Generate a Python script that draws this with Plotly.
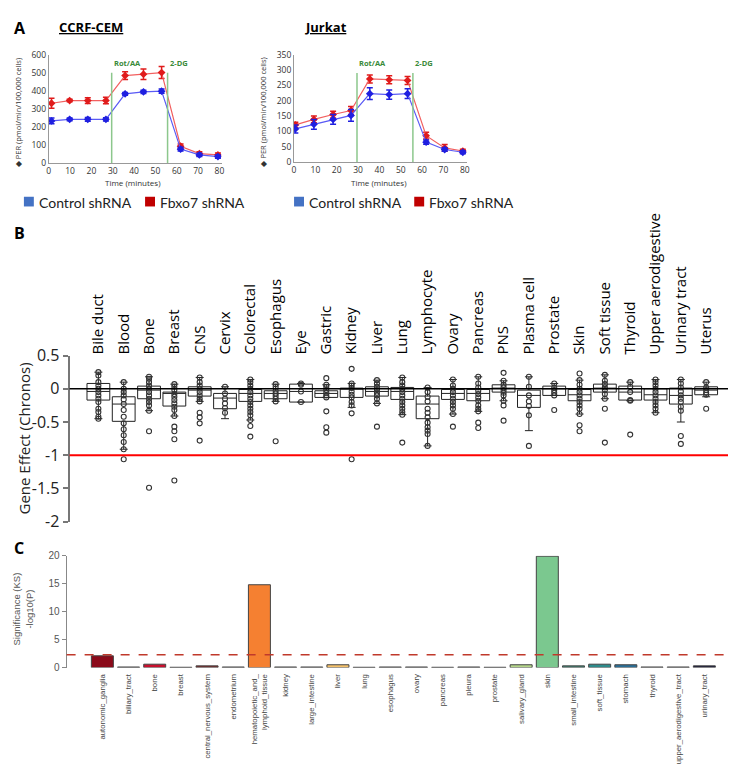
import plotly.graph_objects as go

W, H = 736, 767

# ---------------- Panel A data ----------------
time_ccrf = [1.3, 9.8, 18.3, 26.8, 35.8, 44.4, 52.9, 61.8, 70.6, 79.3]
ccrf_ctrl = [233, 242, 242, 242, 383, 394, 398, 77, 45, 36]
ccrf_ctrl_err = [16, 8, 10, 9, 8, 9, 12, 10, 9, 9]
ccrf_fbxo7 = [331, 346, 346, 346, 484, 492, 501, 93, 52, 45]
ccrf_fbxo7_err = [27, 7, 16, 18, 22, 29, 33, 12, 11, 11]

time_jurkat = [0.6, 9.3, 18.3, 26.7, 35.5, 44.6, 53.2, 61.9, 70.6, 79.1]
jurkat_ctrl = [108, 123, 139, 152, 223, 220, 223, 65, 41, 32]
jurkat_ctrl_err = [13, 16, 16, 19, 19, 15, 16, 7, 6, 5]
jurkat_fbxo7 = [121, 139, 155, 168, 271, 268, 266, 86, 46, 36]
jurkat_fbxo7_err = [9, 11, 11, 13, 13, 13, 13, 11, 11, 6]

rot_aa_time = 29.5
dg_time = 55.7
time_ticks = [0, 10, 20, 30, 40, 50, 60, 70, 80]

# ---------------- Panel B data ----------------
lineages = ["Bile duct", "Blood", "Bone", "Breast", "CNS", "Cervix", "Colorectal",
            "Esophagus", "Eye", "Gastric", "Kidney", "Liver", "Lung", "Lymphocyte",
            "Ovary", "Pancreas", "PNS", "Plasma cell", "Prostate", "Skin",
            "Soft tissue", "Thyroid", "Upper aerodigestive", "Urinary tract", "Uterus"]
b_q3 = [0.08, -0.12, 0.04, -0.05, 0.03, -0.07, -0.01, -0.03, 0.07, -0.03, 0.01, 0.03, 0.02,
        -0.11, -0.01, -0.01, 0.06, -0.02, 0.04, -0.01, 0.07, 0.04, 0.0, 0.01, 0.03]
b_median = [-0.04, -0.23, -0.02, -0.07, -0.02, -0.14, -0.07, -0.07, -0.04, -0.07, 0.01, -0.04,
            -0.04, -0.23, -0.07, -0.07, 0.01, -0.1, 0.0, -0.09, 0.01, -0.05, -0.09, -0.1, -0.02]
b_q1 = [-0.17, -0.49, -0.15, -0.26, -0.11, -0.3, -0.19, -0.15, -0.2, -0.13, -0.13, -0.11, -0.16,
        -0.45, -0.16, -0.18, -0.05, -0.28, -0.1, -0.18, -0.05, -0.17, -0.17, -0.23, -0.09]
b_upper = [0.25, 0.1, 0.18, 0.07, 0.17, 0.03, 0.14, 0.07, 0.08, 0.06, 0.08, 0.13, 0.17,
           0.02, 0.14, 0.18, 0.12, 0.18, 0.08, 0.13, 0.21, 0.1, 0.14, 0.14, 0.1]
b_lower = [-0.45, -0.91, -0.33, -0.41, -0.19, -0.45, -0.47, -0.19, -0.2, -0.13, -0.28, -0.22,
           -0.39, -0.86, -0.38, -0.34, -0.18, -0.63, -0.1, -0.38, -0.15, -0.18, -0.36, -0.5, -0.12]
b_points = [
    [0.25, 0.2, 0.1, 0.05, 0.0, -0.05, -0.1, -0.15, -0.2, -0.3, -0.35, -0.42, -0.45],
    [0.1, 0.0, -0.05, -0.1, -0.16, -0.23, -0.32, -0.42, -0.52, -0.61, -0.7, -0.8, -0.91, -1.06],
    [0.18, 0.15, 0.1, 0.05, 0.0, -0.05, -0.1, -0.15, -0.2, -0.25, -0.33, -0.64, -1.49],
    [0.07, 0.03, -0.02, -0.08, -0.12, -0.17, -0.22, -0.27, -0.32, -0.41, -0.57, -0.64, -0.76, -1.38],
    [0.17, 0.1, 0.05, 0.0, -0.05, -0.1, -0.15, -0.19, -0.36, -0.43, -0.52, -0.78],
    [0.03, -0.07, -0.15, -0.22, -0.29, -0.36],
    [0.14, 0.1, 0.05, 0.0, -0.05, -0.1, -0.15, -0.2, -0.25, -0.3, -0.35, -0.4, -0.47, -0.56, -0.72],
    [0.07, 0.03, -0.03, -0.07, -0.11, -0.15, -0.19, -0.79],
    [0.08, 0.06, -0.04, -0.2],
    [0.16, 0.06, 0.03, -0.02, -0.06, -0.1, -0.13, -0.34, -0.58, -0.66],
    [0.3, 0.08, 0.05, 0.01, -0.04, -0.09, -0.13, -0.2, -0.25, -0.37, -1.06],
    [0.13, 0.08, 0.03, -0.02, -0.06, -0.1, -0.15, -0.22, -0.57],
    [0.17, 0.1, 0.05, 0.0, -0.05, -0.1, -0.15, -0.2, -0.25, -0.3, -0.35, -0.39, -0.81],
    [0.02, -0.05, -0.12, -0.19, -0.3, -0.36, -0.43, -0.51, -0.58, -0.63, -0.68, -0.86],
    [0.14, 0.05, 0.0, -0.05, -0.1, -0.15, -0.2, -0.25, -0.3, -0.38, -0.57],
    [0.18, 0.08, 0.02, -0.03, -0.08, -0.13, -0.18, -0.25, -0.3, -0.34, -0.51, -0.59],
    [0.24, 0.12, 0.06, 0.02, -0.02, -0.06, -0.1, -0.18, -0.25, -0.48],
    [0.18, 0.03, -0.1, -0.19, -0.26, -0.4, -0.86],
    [0.08, 0.02, -0.02, -0.06, -0.1, -0.32],
    [0.23, 0.13, 0.06, 0.0, -0.05, -0.1, -0.15, -0.2, -0.25, -0.3, -0.38, -0.55, -0.64],
    [0.21, 0.12, 0.07, 0.02, -0.02, -0.08, -0.15, -0.3, -0.81],
    [0.1, 0.03, -0.05, -0.17, -0.18, -0.69],
    [0.14, 0.1, 0.05, 0.0, -0.05, -0.1, -0.15, -0.2, -0.25, -0.3, -0.36],
    [0.14, 0.08, 0.02, -0.04, -0.1, -0.15, -0.2, -0.27, -0.33, -0.71, -0.83],
    [0.1, 0.02, -0.02, -0.06, -0.09, -0.3],
]
b_threshold = -1
b_yticks = [0.5, 0, -0.5, -1, -1.5, -2]

# ---------------- Panel C data ----------------
tissues = ["autonomic_ganglia", "biliary_tract", "bone", "breast", "central_nervous_system",
           "endometrium", "hematopoietic_and_<br>lymphoid_tissue", "kidney", "large_intestine",
           "liver", "lung", "esophagus", "ovary", "pancreas", "pleura", "prostate",
           "salivary_gland", "skin", "small_intestine", "soft_tissue", "stomach", "thyroid",
           "upper_aerodigestive_tract", "urinary_tract"]
significance = [2.1, 0.1, 0.6, 0.05, 0.3, 0.1, 14.8, 0.1, 0.1, 0.5, 0.05, 0.1, 0.1, 0.05,
                0.1, 0.05, 0.5, 19.9, 0.3, 0.6, 0.5, 0.1, 0.1, 0.3]
tissue_colors = ["#8b0a1a", "#555555", "#c8102e", "#888888", "#7a2b2b", "#555555", "#f58031",
                 "#555555", "#555555", "#f5c26b", "#888888", "#555555", "#555555", "#888888",
                 "#555555", "#888888", "#b5d68a", "#7bc88f", "#3f7f6f", "#2e8b8b", "#2a6f97",
                 "#555555", "#444444", "#1a1a3a"]
sig_threshold = 2.3


def xd(a, b):
    return [a / W, b / W]


def yd(top, bottom):
    return [1 - bottom / H, 1 - top / H]


def px(x):
    return x / W


def py(y):
    return 1 - y / H


fig = go.Figure()

CTRL_LINE, CTRL_MK = "#5a5af5", "#1f1fe0"
FB_LINE, FB_MK = "#f26060", "#e01b1b"

panels_a = [
    ("x", "y", time_ccrf, ccrf_ctrl, ccrf_ctrl_err, ccrf_fbxo7, ccrf_fbxo7_err),
    ("x2", "y2", time_jurkat, jurkat_ctrl, jurkat_ctrl_err, jurkat_fbxo7, jurkat_fbxo7_err),
]
for xa, ya, t, c, ce, f, fe in panels_a:
    for vals, errs, lc, mc in [(f, fe, FB_LINE, FB_MK), (c, ce, CTRL_LINE, CTRL_MK)]:
        fig.add_trace(go.Scatter(
            x=t, y=vals, xaxis=xa, yaxis=ya, mode="lines+markers",
            line=dict(color=lc, width=1.2),
            marker=dict(symbol="diamond", size=6, color=mc),
            error_y=dict(type="data", array=errs, color=mc, thickness=1.5, width=3),
            showlegend=False, hoverinfo="skip"))

# Panel B boxes
xpos = list(range(len(lineages)))
fig.add_trace(go.Box(
    x=xpos, q1=b_q1, median=b_median, q3=b_q3, lowerfence=b_lower, upperfence=b_upper,
    xaxis="x3", yaxis="y3", fillcolor="white", line=dict(color="#222222", width=1),
    boxpoints=False, width=0.9, whiskerwidth=0.35, showlegend=False, hoverinfo="skip"))
px_list, py_list = [], []
for i, pts in enumerate(b_points):
    px_list += [i] * len(pts)
    py_list += pts
fig.add_trace(go.Scatter(
    x=px_list, y=py_list, xaxis="x3", yaxis="y3", mode="markers",
    marker=dict(symbol="circle-open", size=5, color="#333333", line=dict(width=1.1)),
    showlegend=False, hoverinfo="skip"))

# Panel C bars
fig.add_trace(go.Bar(
    x=list(range(len(tissues))), y=significance, xaxis="x4", yaxis="y4",
    marker=dict(color=tissue_colors, line=dict(color="#444444", width=1)),
    width=0.84, showlegend=False, hoverinfo="skip"))

tickA = dict(size=8.5, color="#333333", family="Open Sans")
common_a_x = dict(range=[0, 81], tickvals=time_ticks, showline=True, linecolor="#999999",
                  linewidth=1, ticks="", tickfont=tickA, showgrid=False, zeroline=False)
common_a_y = dict(showline=True, linecolor="#999999", linewidth=1, ticks="",
                  tickfont=tickA, showgrid=False, zeroline=False)

fig.update_layout(
    width=W, height=H, margin=dict(l=0, r=0, t=0, b=0),
    paper_bgcolor="white", plot_bgcolor="white", showlegend=False,
    xaxis=dict(domain=xd(39, 213), anchor="y", **common_a_x),
    yaxis=dict(domain=yd(36.7, 148.3), anchor="x", range=[0, 600], dtick=100, **common_a_y),
    xaxis2=dict(domain=xd(286, 460), anchor="y2", **common_a_x),
    yaxis2=dict(domain=yd(36.7, 147.3), anchor="x2", range=[0, 350], dtick=50, **common_a_y),
    xaxis3=dict(domain=xd(60, 730), anchor="y3", range=[-1.137, 25.14], side="top",
                tickvals=xpos, ticktext=lineages, tickangle=-90, ticks="",
                tickfont=dict(size=15, color="black", family="Open Sans"),
                showline=False, showgrid=False, zeroline=False),
    yaxis3=dict(domain=yd(346.5, 517.5), anchor="x3", range=[-2, 0.5], tickvals=b_yticks,
                ticktext=["0.5", "0", "-0.5", "-1", "-1.5", "-2"], showline=True,
                linecolor="#777777", linewidth=2, ticks="outside", ticklen=5,
                tickcolor="#777777", tickwidth=2,
                tickfont=dict(size=16, color="#222222", family="Open Sans"),
                showgrid=False, zeroline=False),
    xaxis4=dict(domain=xd(57, 736), anchor="y4", range=[-1.366, 24.4],
                tickvals=list(range(len(tissues))), ticktext=tissues, tickangle=-90, ticks="",
                tickfont=dict(size=7.8, color="#444444", family="Liberation Sans"),
                ticklabelstandoff=4, showline=False, showgrid=False, zeroline=False),
    yaxis4=dict(domain=yd(552.5, 667.7), anchor="x4", range=[0, 20], dtick=5,
                showline=True, linecolor="#888888", linewidth=1, ticks="outside", ticklen=4,
                tickcolor="#888888", tickfont=dict(size=10, color="#555555", family="Liberation Sans"),
                showgrid=False, zeroline=False),
)

shapes = []
# injection lines
for xa, ya, top in [("x", "y", 500), ("x2", "y2", 290)]:
    for tx in (rot_aa_time, dg_time):
        shapes.append(dict(type="line", xref=xa, yref=ya, x0=tx, x1=tx, y0=0, y1=top,
                           line=dict(color="#8cc78c", width=1.5)))
# panel B reference lines
shapes.append(dict(type="line", xref="paper", yref="y3", x0=px(60), x1=1, y0=0, y1=0,
                   line=dict(color="black", width=1.5)))
shapes.append(dict(type="line", xref="paper", yref="y3", x0=px(60), x1=px(729),
                   y0=b_threshold, y1=b_threshold, line=dict(color="#ff0000", width=2)))
# panel C threshold
shapes.append(dict(type="line", xref="paper", yref="y4", x0=px(57), x1=1,
                   y0=sig_threshold, y1=sig_threshold,
                   line=dict(color="#c0392b", width=1.5, dash="dash")))
# legend squares for panel A
for x0, col in [(14, "#4472c4"), (136, "#c00000"), (286, "#4472c4"), (407, "#c00000")]:
    shapes.append(dict(type="rect", xref="paper", yref="paper", x0=px(x0), x1=px(x0 + 10),
                       y0=py(193), y1=py(183), fillcolor=col, line=dict(width=0)))
fig.update_layout(shapes=shapes)

ann = []


def text(x, y, s, size, color="black", family="Open Sans", xanchor="center",
         yanchor="middle", angle=0, xref="paper", yref="paper"):
    ann.append(dict(x=x, y=y, xref=xref, yref=yref, text=s, showarrow=False,
                    font=dict(size=size, color=color, family=family),
                    xanchor=xanchor, yanchor=yanchor, textangle=angle))


text(px(2), py(9), "<b>A</b>", 16, xanchor="left")
text(px(2), py(220), "<b>B</b>", 16, xanchor="left")
text(px(2), py(545), "<b>C</b>", 16, xanchor="left")
text(px(82), py(8), "<b><u>CCRF-CEM</u></b>", 13)
text(px(318), py(8), "<b><u>Jurkat</u></b>", 13)
for xa, cx, lx in [("x", 124, 8), ("x2", 372, 255)]:
    text(px(cx), py(168), "Time (minutes)", 8, color="#333333")
    text(px(lx), py(96), "◆ PER (pmol/min/100,000 cells)", 7.5, color="#333333", angle=-90)
    text(rot_aa_time, py(45), "<b>Rot/AA</b>", 7.5, color="#3a8a3a", xanchor="left",
         xref=xa)
    text(dg_time, py(45), "<b>2-DG</b>", 7.5, color="#3a8a3a", xanchor="left", xref=xa)
for x0, s in [(27, "Control shRNA"), (149, "Fbxo7 shRNA"), (299, "Control shRNA"),
              (420, "Fbxo7 shRNA")]:
    text(px(x0), py(189), s, 14, color="#222222", family="Lato", xanchor="left")
text(px(14), py(432), "Gene Effect (Chronos)", 15, color="#222222", angle=-90)
text(px(13), py(607), "Significance (KS)<br>-log10(P)", 9.5, color="#555555",
     family="Liberation Sans", angle=-90)
fig.update_layout(annotations=ann)

fig.write_html("out.html")
